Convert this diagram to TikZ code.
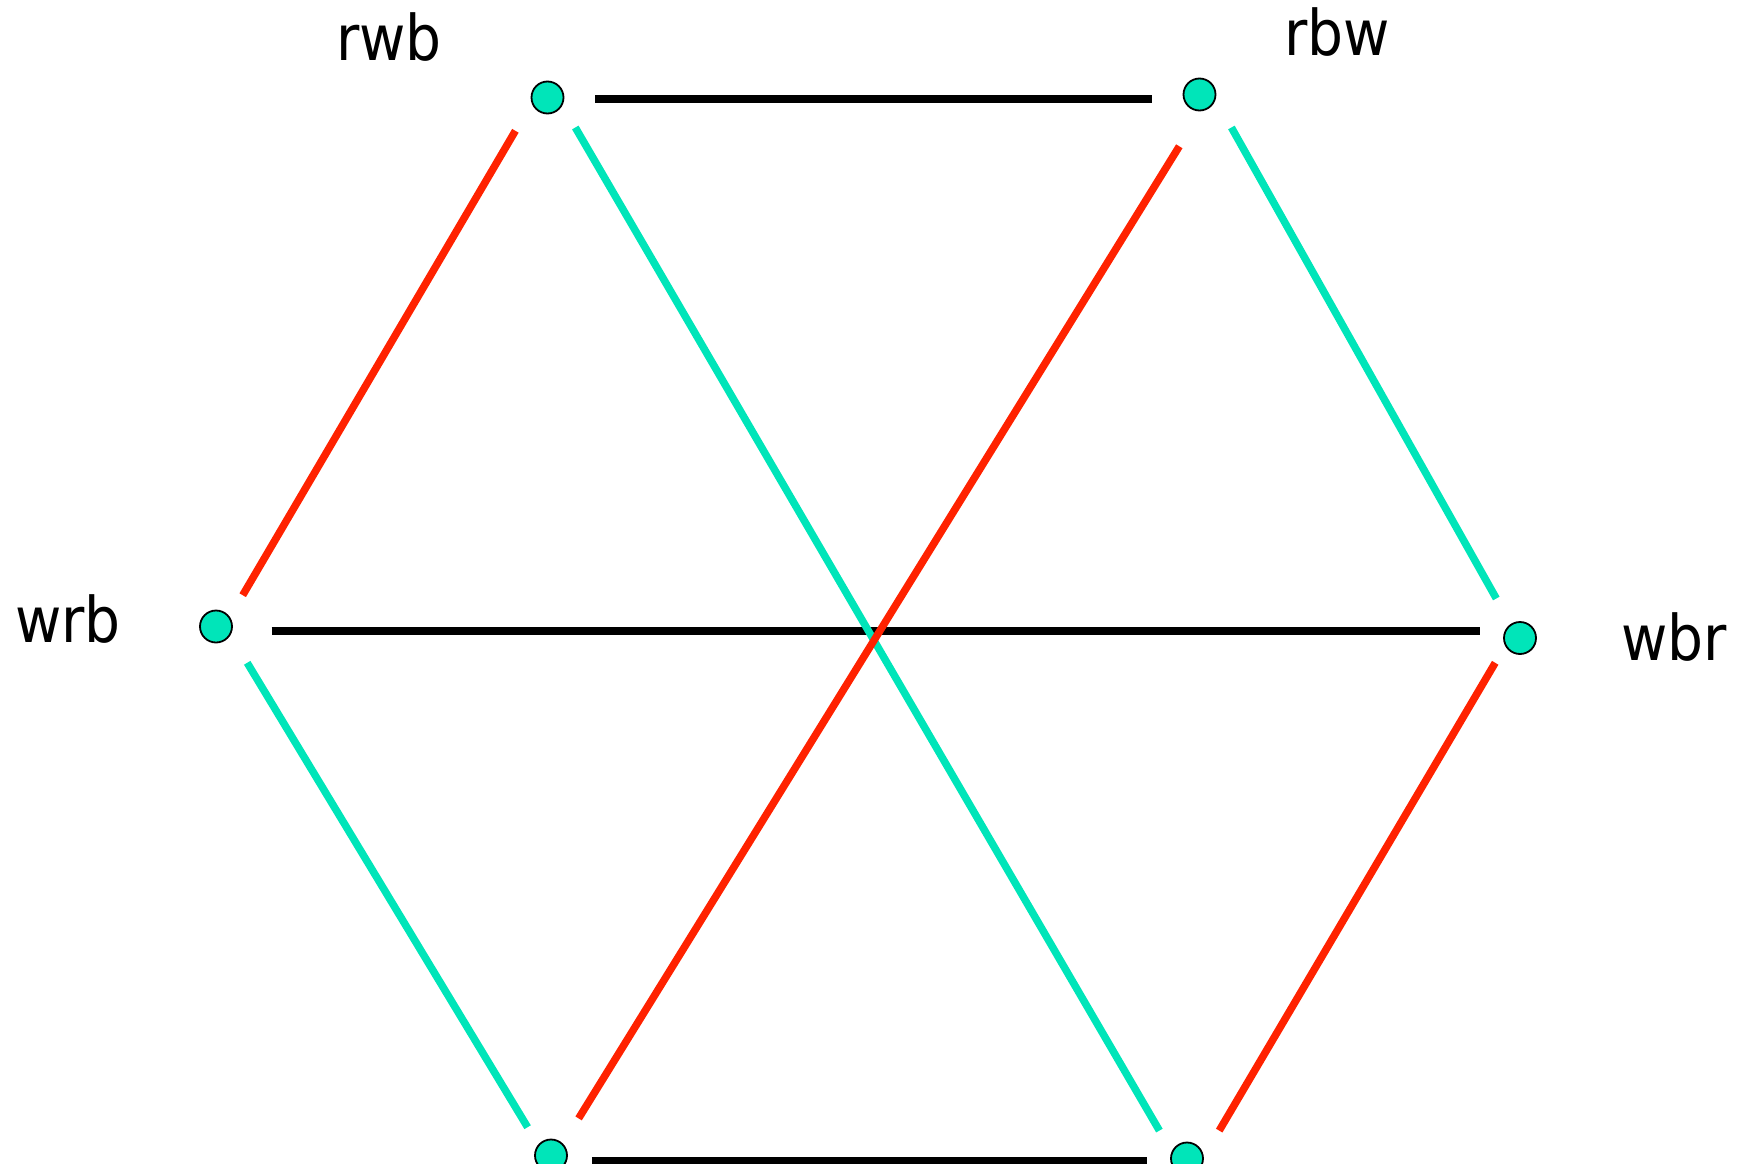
\documentclass[tikz,border=0pt]{standalone}
\usepackage{fontspec}
\setmainfont{DejaVu Sans Condensed}
\definecolor{teal1}{RGB}{0,229,185}
\definecolor{red1}{RGB}{255,34,0}
\begin{document}
\begin{tikzpicture}[x=1pt,y=-1pt,
  dot/.style={circle,draw=black,line width=1.8pt,fill=teal1,minimum size=32pt,inner sep=0pt},
  lab/.style={inner sep=0pt,anchor=base,font=\fontsize{63}{70}\selectfont},
  blk/.style={draw=black,line width=8pt},
  tl/.style={draw=teal1,line width=7.5pt},
  rd/.style={draw=red1,line width=7.5pt}]
\useasboundingbox (0,0) rectangle (1738,1164);
% dots
\node[dot] (rwb) at (547.5,97.5) {};
\node[dot] (rbw) at (1199.5,94.5) {};
\node[dot] (wrb) at (216,626.5) {};
\node[dot] (wbr) at (1520,638) {};
\node[dot] (bl) at (551,1155.5) {};
\node[dot] (br) at (1187,1158.5) {};
% labels
\node[lab] (lrwb) at (389,60) {rwb};
\node[lab] (lrbw) at (1337,56) {rbw};
\node[lab] (lwrb) at (68,642) {wrb};
\node[lab] (lwbr) at (1674,660) {wbr};
% connector end points near each dot
\coordinate (rwb-e) at (595,98.6);
\coordinate (rbw-w) at (1151.6,98.6);
\coordinate (wrb-e) at (271.6,630.7);
\coordinate (wbr-w) at (1479.7,630.7);
\coordinate (bl-e) at (591.9,1160.5);
\coordinate (br-w) at (1147.2,1160.5);
\coordinate (rwb-sw) at (515.4,130.8);
\coordinate (wrb-ne) at (242.7,595.2);
\coordinate (rwb-se) at (575.3,127.5);
\coordinate (br-nw) at (1159.4,1130.6);
\coordinate (rbw-sw) at (1179.3,146.3);
\coordinate (bl-ne) at (578.6,1118.4);
\coordinate (rbw-se) at (1231.4,127.5);
\coordinate (wbr-nw) at (1496.3,598.5);
\coordinate (wrb-se) at (247.2,662.8);
\coordinate (bl-nw) at (527.6,1127.2);
\coordinate (wbr-sw) at (1495.2,662.8);
\coordinate (br-ne) at (1219.2,1130.6);
% black edges
\draw[blk] (rwb-e) -- (rbw-w);
\draw[blk] (wrb-e) -- (wbr-w);
\draw[blk] (bl-e) -- (br-w);
% teal edges
\draw[tl] (rwb-se) -- (br-nw);
\draw[tl] (rbw-se) -- (wbr-nw);
\draw[tl] (wrb-se) -- (bl-nw);
% red edges
\draw[rd] (rwb-sw) -- (wrb-ne);
\draw[rd] (rbw-sw) -- (bl-ne);
\draw[rd] (wbr-sw) -- (br-ne);
\end{tikzpicture}
\end{document}
